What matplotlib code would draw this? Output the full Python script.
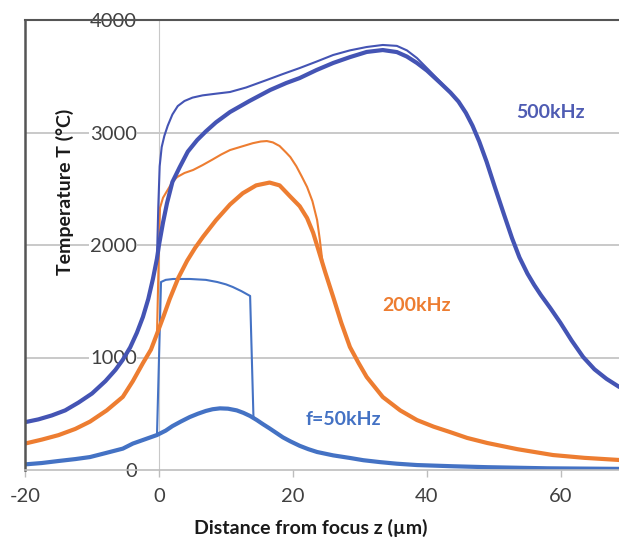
import matplotlib
matplotlib.use("Agg")
import matplotlib.pyplot as plt

plt.rcParams['font.family'] = ['Lato', 'DejaVu Sans']
plt.rcParams['axes.unicode_minus'] = False

# 500 kHz (thick curve, and the thin curve's own section)
z_500 = [-20, -18, -16, -14, -12, -10, -8, -6.5, -5.4, -4.3, -3.3, -2.4, -1.6, -0.9, -0.3, 0, 0.6, 1.2, 2,
         3.1, 4.3, 5.7, 7, 8.5, 10.6, 13.5, 16.6, 19, 21, 23.5, 26, 28.5, 31, 33.4, 35.5, 37, 38.5, 40, 42,
         43.5, 44.7, 45.8, 46.8, 47.8, 48.9, 50.1, 51.5, 52.7, 53.8, 55, 56, 57, 58.4, 59.9, 61.6, 63.3, 65,
         66.8, 68.7]
T_500 = [425, 450, 485, 530, 600, 680, 790, 890, 980, 1090, 1220, 1360, 1520, 1700, 1880, 2000, 2200, 2373, 2560,
         2693, 2830, 2933, 3010, 3090, 3182, 3280, 3378, 3440, 3484, 3555, 3618, 3670, 3716, 3733, 3715, 3675,
         3618, 3550, 3440, 3355, 3275, 3175, 3060, 2920, 2740, 2520, 2270, 2060, 1890, 1745, 1645, 1555, 1440,
         1310, 1150, 1005, 895, 810, 738]
z_500_peak = [-0.3, -0.1, 0.1, 0.4, 0.8, 1.3, 2, 2.8, 3.8, 5, 6.5, 8.5, 10.6, 13, 16.1, 18.5, 21, 23.5, 26,
              28.5, 31, 33.4, 35.5, 37, 38.5, 40.2, 42]
T_500_peak = [1890, 2350, 2700, 2870, 2970, 3060, 3160, 3235, 3280, 3310, 3330, 3345, 3360, 3400, 3467, 3520,
              3573, 3630, 3689, 3730, 3760, 3778, 3770, 3730, 3662, 3560, 3450]

# 200 kHz
z_200 = [-20, -17.5, -15, -12.5, -10.3, -7.8, -5.4, -3.9, -2.4, -1.2, -0.3, 0.7, 1.6, 2.9, 4.2, 5.4, 6.6, 8.5,
         10.6, 12.5, 14.5, 16.5, 18, 19.6, 21, 22.1, 23, 23.7, 24.8, 26, 27.2, 28.5, 29.8, 31, 33.4, 36, 38.5,
         41, 43.4, 46, 49, 53.5, 58.8, 63.5, 68.7]
T_200 = [235, 270, 310, 365, 430, 530, 650, 790, 950, 1070, 1210, 1370, 1520, 1710, 1860, 1975, 2075, 2220,
         2360, 2460, 2530, 2555, 2530, 2430, 2345, 2240, 2110, 1975, 1760, 1538, 1310, 1093, 950, 827, 649, 530,
         444, 385, 338, 285, 240, 185, 133, 108, 89]
z_200_peak = [-0.15, 0, 0.15, 0.6, 1.2, 2, 2.7, 3.8, 5.1, 6.5, 8, 9.3, 10.6, 12.1, 14, 15.2, 16.1, 17, 18, 19,
              19.6, 20.5, 21.3, 22.1, 22.9, 23.6, 24, 24.4]
T_200_peak = [1600, 2000, 2330, 2420, 2480, 2560, 2604, 2640, 2667, 2710, 2760, 2805, 2844, 2871, 2905, 2920,
              2924, 2912, 2880, 2820, 2782, 2700, 2610, 2516, 2390, 2222, 2050, 1850]

# 50 kHz
z_50 = [-20, -17.5, -15, -12.5, -10.3, -8, -5.4, -3.9, -2, -0.3, 1, 2, 3.3, 4.6, 5.8, 7, 8, 9.1, 10.3, 11.6,
        12.6, 13.6, 14.6, 15.5, 16.5, 17.5, 18.5, 19.6, 21, 22.3, 23.6, 26, 28.5, 30.5, 33, 35.5, 38.5, 44, 49,
        58, 68.7]
T_50 = [50, 62, 80, 97, 115, 150, 190, 235, 275, 311, 350, 390, 432, 471, 500, 525, 540, 548, 545, 530,
        508, 480, 444, 408, 370, 330, 290, 255, 215, 185, 160, 130, 107, 87, 70, 56, 44, 33, 25,
        15, 10]
z_50_peak = [0.3, 1, 2.1, 4.6, 7, 8.7, 10, 11, 12.3, 13.6, 14.1]
T_50_peak = [1671, 1690, 1698, 1698, 1690, 1671, 1650, 1627, 1590, 1547, 470]

x_ticks = [-20, 0, 20, 40, 60]
y_ticks = [0, 1000, 2000, 3000, 4000]

c500 = "#4454b4"
c200 = "#ed7d31"
c50 = "#4472c4"


def branch(z, T, z_own, T_own, split, rejoin):
    # thin curve = thick curve before `split`, own points, thick curve again from `rejoin`
    a = z.index(split)
    b = z.index(rejoin)
    return z[:a] + z_own + z[b:], T[:a] + T_own + T[b:]


fig = plt.figure(figsize=(6.19, 5.44), dpi=100)
ax = fig.add_axes([25 / 619, 74 / 544, 594 / 619, 450 / 544])

thick = dict(lw=3.0, solid_capstyle='round', solid_joinstyle='round')
thin = dict(lw=1.5, solid_joinstyle='round')

ax.plot(z_50, T_50, color=c50, **thick)
ax.plot(*branch(z_50, T_50, z_50_peak, T_50_peak, 1, 14.6), color=c50, **thin)
ax.plot(z_200, T_200, color=c200, **thick)
ax.plot(*branch(z_200, T_200, z_200_peak, T_200_peak, 0.7, 24.8), color=c200, **thin)
ax.plot(z_500, T_500, color=c500, **thick)
ax.plot(*branch(z_500, T_500, z_500_peak, T_500_peak, -0.3, 43.5), color=c500, **thin)

ax.set_xlim(-20, 68.66)
ax.set_ylim(0, 4000)
ax.set_xticks(x_ticks)
ax.set_yticks(y_ticks)

for y in y_ticks[1:4]:
    ax.axhline(y, color="#c0c0c0", lw=1.2, zorder=1)

ax.spines['left'].set_position(('data', 0))
ax.spines['left'].set_color("#c8c8c8")
ax.spines['left'].set_zorder(1)
ax.spines['bottom'].set_color("#bdbdbd")
ax.spines['bottom'].set_linewidth(1.2)
ax.spines['top'].set_color("#555555")
ax.spines['top'].set_linewidth(1.5)
ax.spines['right'].set_visible(False)
ax.plot([0, 0], [0, 1], transform=ax.transAxes, color="#555555", lw=1.8, clip_on=False)

ax.tick_params(axis='y', length=0, pad=16, labelsize=14.5, labelcolor="#404040")
ax.tick_params(axis='x', length=5, width=1, color="#bdbdbd", pad=8, labelsize=14.5, labelcolor="#404040")
for lbl in ax.get_yticklabels():
    lbl.set_bbox(dict(facecolor='white', edgecolor='none', pad=0.5))

ax.text(58.5, 3182, "500kHz", color="#4f5cb3", fontsize=14, fontweight='bold', ha='center', va='center')
ax.text(38.5, 1458, "200kHz", color=c200, fontsize=14, fontweight='bold', ha='center', va='center')
ax.text(27.5, 453, "f=50kHz", color=c50, fontsize=14, fontweight='bold', ha='center', va='center')

fig.text(311 / 619, 1 - 528 / 544, "Distance from focus z (\u00b5m)", fontsize=14, fontweight='bold',
         color="#1a1a1a", ha='center', va='center')
fig.text(65 / 619, 1 - 192 / 544, "Temperature T (\u00b0C)", fontsize=14, fontweight='bold',
         color="#1a1a1a", ha='center', va='center', rotation=90)

fig.savefig("out.png", dpi=100)
